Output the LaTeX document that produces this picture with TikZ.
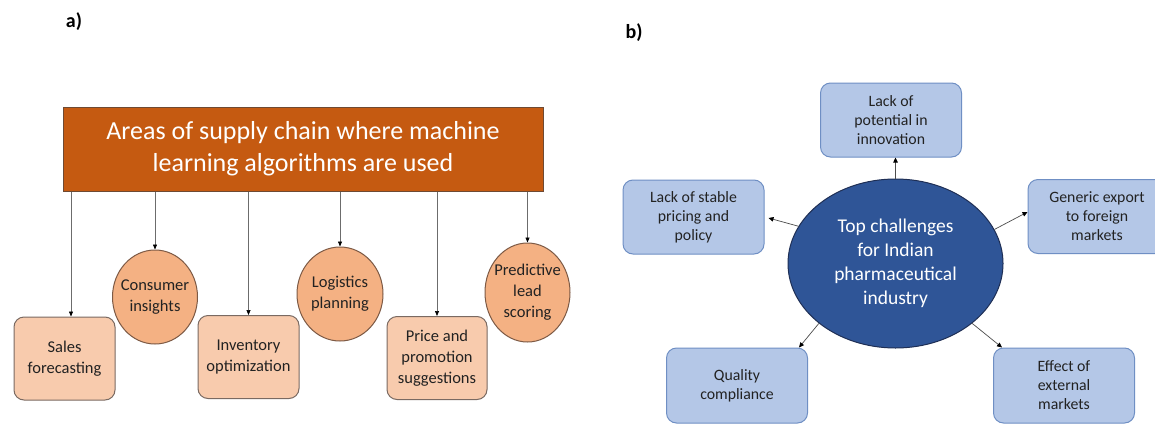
\documentclass[tikz,border=0pt]{standalone}
\usepackage{fontspec}
\setmainfont{Carlito}
\usetikzlibrary{shapes.geometric,arrows.meta}
\definecolor{hdrfill}{HTML}{C55A11}
\definecolor{hdrdraw}{HTML}{6E4A33}
\definecolor{boxfill}{HTML}{F8CBAD}
\definecolor{boxdraw}{HTML}{7A6A62}
\definecolor{circfill}{HTML}{F4B183}
\definecolor{circdraw}{HTML}{7D5A45}
\definecolor{bfill}{HTML}{B4C7E7}
\definecolor{bdraw}{HTML}{6F8FC4}
\definecolor{efill}{HTML}{2F5597}
\definecolor{edraw}{HTML}{1F2F55}
\definecolor{txt}{HTML}{222222}
\tikzset{
  hdrbox/.style={draw=hdrdraw, fill=hdrfill, line width=1pt, minimum width=480pt, minimum height=84pt,
    inner sep=0pt, text=white, align=center, font=\fontsize{26}{32}\selectfont},
  abox/.style={draw=boxdraw, fill=boxfill, line width=1pt, rounded corners=10pt, minimum width=101pt,
    minimum height=83pt, inner sep=0pt, text=txt, align=center, font=\fontsize{16.5}{21}\selectfont},
  acirc/.style={ellipse, draw=circdraw, fill=circfill, line width=1pt, inner sep=0pt},
  ctext/.style={text=txt, align=center, font=\fontsize{16.5}{21}\selectfont, inner sep=0pt},
  bbox/.style={draw=bdraw, fill=bfill, line width=1pt, rounded corners=10pt, minimum width=141pt,
    minimum height=74pt, inner sep=0pt, text=txt, align=center, font=\fontsize{15.8}{19}\selectfont},
  bell/.style={ellipse, draw=edraw, fill=efill, line width=1pt, minimum width=215pt, minimum height=169pt,
    inner sep=0pt, text=white, align=center, font=\fontsize{19.5}{24}\selectfont},
  aarr/.style={draw=gray!85!black, line width=0.7pt, -{Triangle[length=5pt,width=4pt,color=black]}},
  barr/.style={draw=black!70, line width=0.7pt, -{Triangle[length=5pt,width=4.5pt,color=black]}},
  plabel/.style={font=\bfseries\fontsize{20}{24}\selectfont, text=black, inner sep=0pt}
}
\begin{document}
\begin{tikzpicture}[x=1pt,y=-1pt]
\path[use as bounding box] (0,0) rectangle (1155,423);
\clip (0,0) rectangle (1155,423);
\fill[white] (0,0) rectangle (1155,423);

% panel a
\node[plabel] (la) at (74,22) {a)};
\node[hdrbox] (hdr) at (303,149) {Areas of supply chain where machine\\learning algorithms are used};
\node[abox] (sales) at (64.5,358.5) {Sales\\forecasting};
\node[acirc, minimum width=85pt, minimum height=94pt] (cons) at (155,297) {};
\node[ctext] (consT) at (cons.center) {Consumer\\insights};
\node[abox] (inv) at (248.5,357) {Inventory\\optimization};
\node[acirc, minimum width=86pt, minimum height=94pt] (logi) at (340,294) {};
\node[ctext] (logiT) at (logi.center) {Logistics\\planning};
\node[abox, minimum width=100pt] (price) at (437,358) {Price and\\promotion\\suggestions};
\node[acirc, minimum width=85pt, minimum height=99pt] (pred) at (527.5,292.5) {};
\node[ctext] (predT) at (pred.center) {Predictive\\lead\\scoring};

\draw[aarr] (hdr.south -| 71,0) -- (sales.north -| 71,0);
\draw[aarr] (hdr.south -| cons.north) -- (cons.north);
\draw[aarr] (hdr.south -| inv.north) -- (inv.north);
\draw[aarr] (hdr.south -| logi.north) -- (logi.north);
\draw[aarr] (hdr.south -| price.north) -- (price.north);
\draw[aarr] (hdr.south -| pred.north) -- (pred.north);

% panel b
\node[plabel] (lb) at (634,33) {b)};
\node[bell] (ell) at (895.5,263.5) {Top challenges\\for Indian\\pharmaceutical\\industry};
\node[bbox] (inno) at (891,120) {Lack of\\potential in\\innovation};
\node[bbox] (pric) at (693.5,217) {Lack of stable\\pricing and\\policy};
\node[bbox, minimum width=138pt] (gen) at (1097,216.5) {Generic export\\to foreign\\markets};
\node[bbox, minimum height=75pt] (qual) at (737,385.5) {Quality\\compliance};
\node[bbox, minimum height=75pt] (eff) at (1064,385.5) {Effect of\\external\\markets};

\draw[barr] (ell.north) -- (ell.north |- inno.south);
\draw[barr] (ell.159.6) -- ([xshift=4pt,yshift=-1pt]pric.east);
\draw[barr] (ell.19) -- ([yshift=4.5pt]gen.west);
\draw[barr] (ell.218.8) -- ([xshift=-9pt]qual.north east);
\draw[barr] (ell.-38.3) -- ([xshift=9pt]eff.north west);
\end{tikzpicture}
\end{document}
